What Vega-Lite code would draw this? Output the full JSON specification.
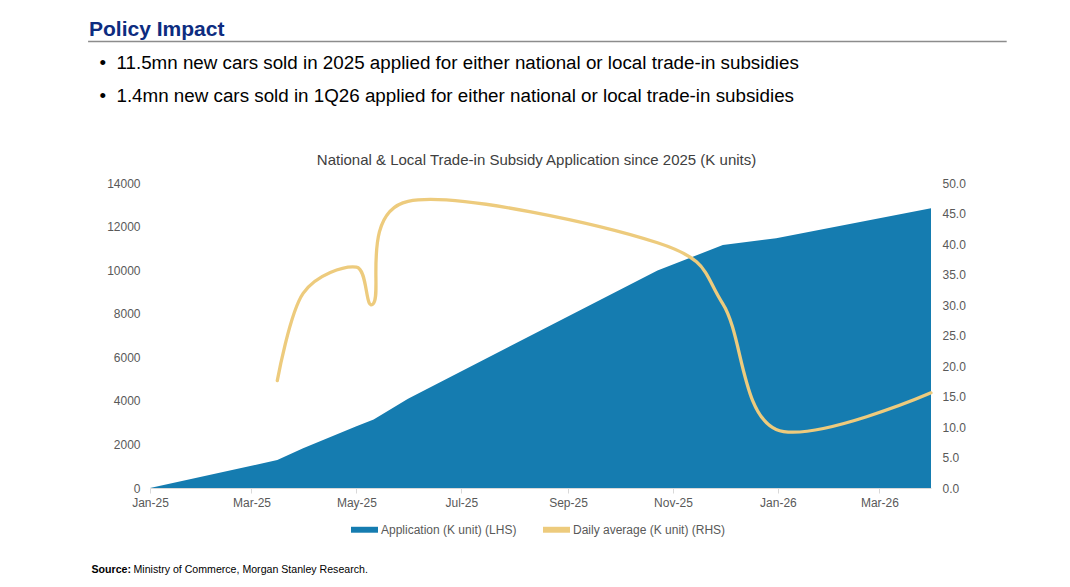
{
  "$schema": "https://vega.github.io/schema/vega-lite/v6.json",
  "width": 781,
  "height": 305,
  "autosize": {"type": "none"},
  "padding": {"left": 150, "top": 183, "right": 139, "bottom": 99},
  "background": "white",
  "config": {"view": {"stroke": null}, "font": "Liberation Sans"},
  "title": {
    "text": "Policy Impact",
    "subtitle": [
      "\u200b\u00a0\u00a0•\u00a0\u00a011.5mn new cars sold in 2025 applied for either national or local trade-in subsidies",
      "\u200b\u00a0\u00a0•\u00a0\u00a01.4mn new cars sold in 1Q26 applied for either national or local trade-in subsidies"
    ],
    "anchor": "start",
    "frame": "group",
    "dx": -61,
    "offset": -65,
    "font": "Liberation Sans",
    "fontSize": 21,
    "fontWeight": "bold",
    "color": "#0D2C80",
    "subtitleFont": "Liberation Sans",
    "subtitleFontSize": 18.8,
    "subtitleColor": "#000000",
    "subtitleLineHeight": 33,
    "subtitlePadding": 14
  },
  "data": {
    "values": [
      {"date": "2025-01-01T00:00:00", "application": 0, "daily": null},
      {"date": "2025-03-16T00:00:00", "application": 1285, "daily": 17.6},
      {"date": "2025-03-31T00:00:00", "application": 1822, "daily": 31.9},
      {"date": "2025-05-01T00:00:00", "application": 2830, "daily": 36.2},
      {"date": "2025-05-11T00:00:00", "application": 3150, "daily": 30.3},
      {"date": "2025-05-31T00:00:00", "application": 4100, "daily": 47.0},
      {"date": "2025-10-23T00:00:00", "application": 9980, "daily": 40.2},
      {"date": "2025-11-30T00:00:00", "application": 11154, "daily": 30.2},
      {"date": "2025-12-31T00:00:00", "application": 11461, "daily": 9.6},
      {"date": "2026-03-31T00:00:00", "application": 12838, "daily": 15.6}
    ]
  },
  "layer": [
    {
      "mark": {"type": "area", "color": "#157CB0"},
      "encoding": {
        "x": {
          "field": "date",
          "type": "temporal",
          "scale": {"domain": [{"year": 2025, "month": 1, "date": 1}, {"year": 2026, "month": 3, "date": 31}], "nice": false},
          "axis": {
            "orient": "bottom",
            "title": null,
            "values": [
              {"year": 2025, "month": 1, "date": 1},
              {"year": 2025, "month": 3, "date": 1},
              {"year": 2025, "month": 5, "date": 1},
              {"year": 2025, "month": 7, "date": 1},
              {"year": 2025, "month": 9, "date": 1},
              {"year": 2025, "month": 11, "date": 1},
              {"year": 2026, "month": 1, "date": 1},
              {"year": 2026, "month": 3, "date": 1}
            ],
            "format": "%b-%y",
            "labelFlush": false,
            "labelOverlap": false,
            "grid": false,
            "domainColor": "#d9d9d9",
            "tickColor": "#d9d9d9",
            "tickSize": 5,
            "labelPadding": 4,
            "labelFontSize": 12,
            "labelColor": "#595959",
            "labelFont": "Liberation Sans"
          }
        },
        "y": {
          "field": "application",
          "type": "quantitative",
          "scale": {"domain": [0, 14000], "nice": false},
          "axis": {
            "orient": "left",
            "values": [0, 2000, 4000, 6000, 8000, 10000, 12000, 14000],
            "format": "d",
            "grid": false,
            "domain": false,
            "ticks": false,
            "labelPadding": 10,
            "labelFontSize": 12,
            "labelColor": "#595959",
            "labelFont": "Liberation Sans",
            "title": "Source:",
            "titleAngle": 0,
            "titleX": -59,
            "titleY": 386,
            "titleAlign": "left",
            "titleBaseline": "middle",
            "titleFont": "Liberation Sans",
            "titleFontSize": 10.6,
            "titleFontWeight": "bold",
            "titleColor": "#000000"
          }
        },
        "color": {
          "datum": "Application (K unit) (LHS)",
          "type": "nominal",
          "scale": {
            "domain": ["Application (K unit) (LHS)", "Daily average (K unit) (RHS)"],
            "range": ["#157CB0", "#EDCB7D"]
          },
          "legend": {
            "title": null,
            "orient": "none",
            "legendX": 201,
            "legendY": 333,
            "direction": "horizontal",
            "symbolType": "M-1,-0.22H1V0.22H-1Z",
            "symbolSize": 729,
            "symbolStrokeWidth": 0,
            "labelFont": "Liberation Sans",
            "labelFontSize": 12,
            "labelColor": "#595959",
            "labelOffset": 3,
            "columnPadding": 26
          }
        }
      }
    },
    {
      "mark": {"type": "line", "interpolate": "cardinal", "strokeWidth": 3.3, "strokeCap": "round"},
      "encoding": {
        "x": {
          "field": "date",
          "type": "temporal",
          "axis": {
            "orient": "top",
            "labels": false,
            "ticks": false,
            "domain": false,
            "grid": false,
            "title": "National & Local Trade-in Subsidy Application since 2025 (K units)",
            "titleX": 386,
            "titleY": -24,
            "titleBaseline": "middle",
            "titleFont": "Liberation Sans",
            "titleFontSize": 15,
            "titleFontWeight": "normal",
            "titleColor": "#404040"
          }
        },
        "y": {
          "field": "daily",
          "type": "quantitative",
          "scale": {"domain": [0, 50], "nice": false},
          "axis": {
            "orient": "right",
            "values": [0, 5, 10, 15, 20, 25, 30, 35, 40, 45, 50],
            "format": ".1f",
            "grid": false,
            "domain": false,
            "ticks": false,
            "labelPadding": 11,
            "labelFontSize": 12,
            "labelColor": "#595959",
            "labelFont": "Liberation Sans",
            "title": "Ministry of Commerce, Morgan Stanley Research.",
            "titleAngle": 0,
            "titleX": -798,
            "titleY": 386,
            "titleAlign": "left",
            "titleBaseline": "middle",
            "titleFont": "Liberation Sans",
            "titleFontSize": 10.6,
            "titleFontWeight": "normal",
            "titleColor": "#000000"
          }
        },
        "color": {"datum": "Daily average (K unit) (RHS)", "type": "nominal"}
      }
    },
    {
      "data": {"values": [{}]},
      "mark": {"type": "rule", "color": "#8c8c8c", "strokeWidth": 1.5},
      "encoding": {
        "x": {"datum": {"year": 2024, "month": 11, "date": 26}, "type": "temporal", "axis": null},
        "x2": {"datum": {"year": 2026, "month": 5, "date": 14}},
        "y": {"datum": 20500, "type": "quantitative", "scale": {"domain": [0, 14000], "nice": false}, "axis": null}
      }
    }
  ],
  "resolve": {"scale": {"y": "independent"}, "axis": {"x": "independent"}}
}
